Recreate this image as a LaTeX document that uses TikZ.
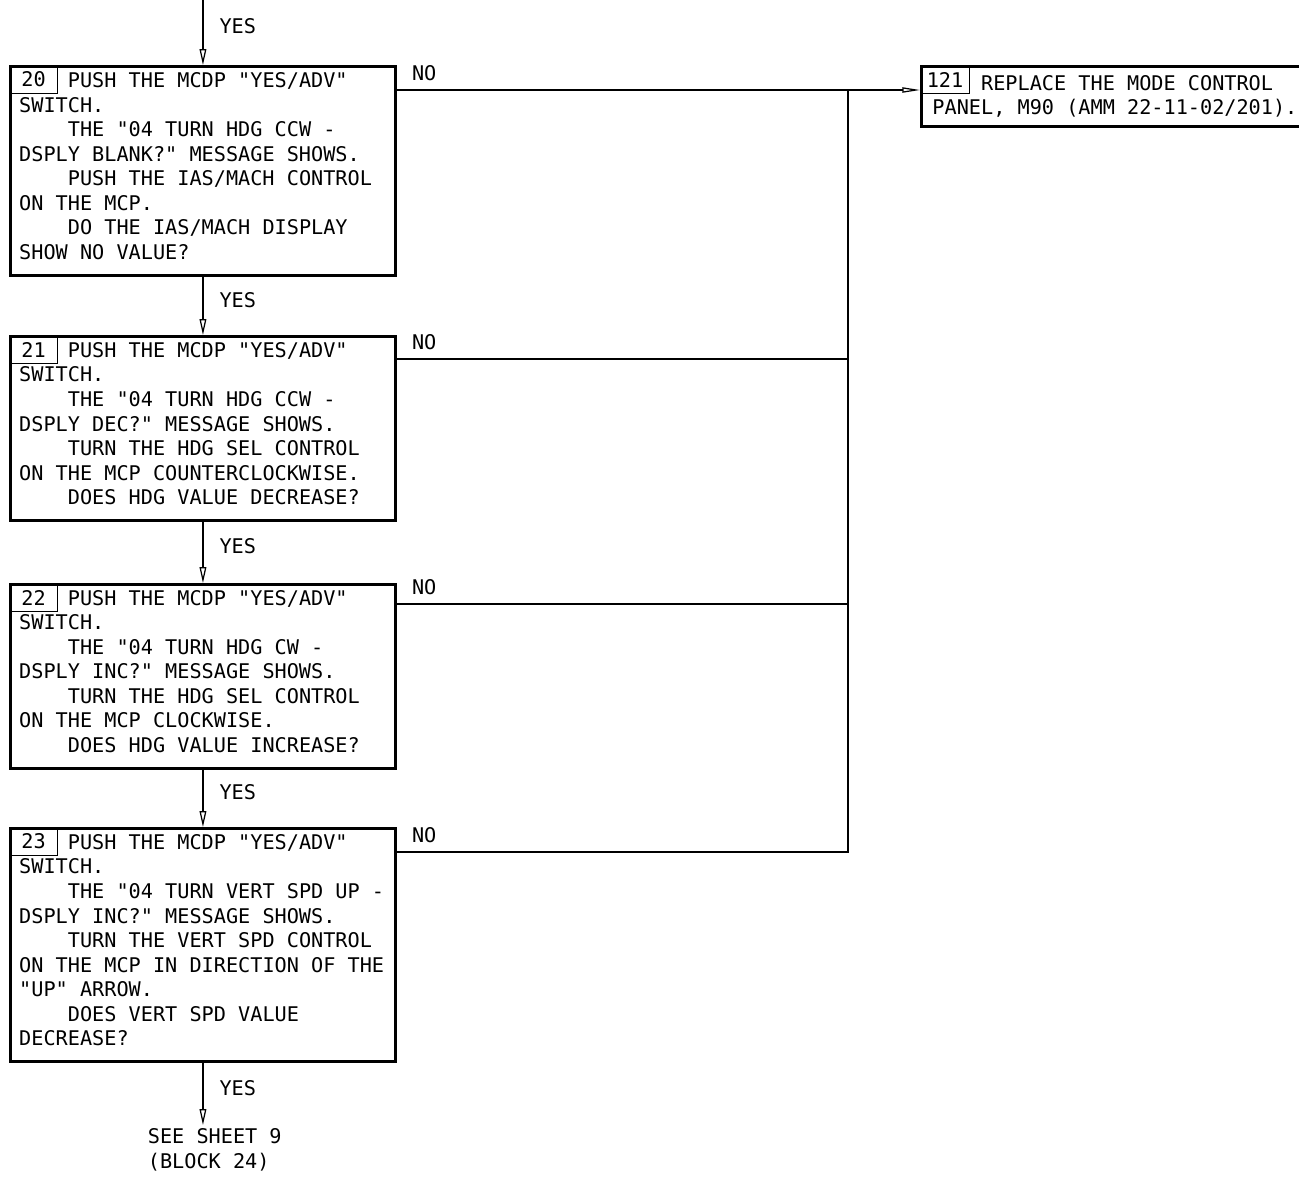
\documentclass[tikz,border=0pt]{standalone}
\usepackage{fontspec}
\setmonofont{DejaVu Sans Mono}
\usetikzlibrary{arrows.meta, positioning, calc}
\newcommand{\indsp}{\hphantom{0000}}

\begin{document}
\begin{tikzpicture}[
        x=0.02cm, y=-0.02cm,
        font=\ttfamily\fontsize{11.5pt}{13.95pt}\selectfont,
        stepbox/.style={rectangle, draw=black, line width=1.7pt, minimum width=7.7cm, text width=7.35cm, inner xsep=0.175cm, anchor=north west,
            execute at begin node={\noindent\spaceskip=0.602em\xspaceskip=0.602em\relax}, execute at end node={\endgraf\vspace*{5.5pt}}},
        resultbox/.style={rectangle, draw=black, line width=1.7pt, text width=7.4cm, inner xsep=0.22cm, minimum height=1.2cm, anchor=north west,
            execute at begin node={\noindent\spaceskip=0.602em\xspaceskip=0.602em\relax}},
        numbox/.style={rectangle, draw=black, line width=0.6pt, minimum width=0.96cm, minimum height=0.56cm, inner sep=0pt, anchor=north west},
        yesline/.style={-{Triangle[open, length=9pt, width=3.8pt]}, line width=0.7pt},
        noline/.style={line width=0.7pt},
        yeslbl/.style={pos=0.4, anchor=west, xshift=0.25cm, inner sep=2pt},
        nolbl/.style={anchor=south west, xshift=0.22cm, yshift=0.1cm, inner sep=2pt}
    ]
        \useasboundingbox (0,0) rectangle (1299,1178);
        % test blocks
        \node[stepbox, minimum height=4.18cm] (b20) at (9,65) {\indsp PUSH THE MCDP "YES/ADV"\\SWITCH.\\\indsp THE "04 TURN HDG CCW -\\DSPLY BLANK?" MESSAGE SHOWS.\\\indsp PUSH THE IAS/MACH CONTROL\\ON THE MCP.\\\indsp DO THE IAS/MACH DISPLAY\\SHOW NO VALUE?};
        \node[stepbox, minimum height=3.68cm] (b21) at (9,335) {\indsp PUSH THE MCDP "YES/ADV"\\SWITCH.\\\indsp THE "04 TURN HDG CCW -\\DSPLY DEC?" MESSAGE SHOWS.\\\indsp TURN THE HDG SEL CONTROL\\ON THE MCP COUNTERCLOCKWISE.\\\indsp DOES HDG VALUE DECREASE?};
        \node[stepbox, minimum height=3.62cm] (b22) at (9,583) {\indsp PUSH THE MCDP "YES/ADV"\\SWITCH.\\\indsp THE "04 TURN HDG CW -\\DSPLY INC?" MESSAGE SHOWS.\\\indsp TURN THE HDG SEL CONTROL\\ON THE MCP CLOCKWISE.\\\indsp DOES HDG VALUE INCREASE?};
        \node[stepbox, minimum height=4.66cm] (b23) at (9,827) {\indsp PUSH THE MCDP "YES/ADV"\\SWITCH.\\\indsp THE "04 TURN VERT SPD UP -\\DSPLY INC?" MESSAGE SHOWS.\\\indsp TURN THE VERT SPD CONTROL\\ON THE MCP IN DIRECTION OF THE\\"UP" ARROW.\\\indsp DOES VERT SPD VALUE\\DECREASE?};
        \node[resultbox] (b121) at (920,65) {\indsp REPLACE THE MODE CONTROL\\PANEL, M90 (AMM 22-11-02/201).};
        % block numbers
        \node[numbox] (n20) at (b20.north west) {20};
        \node[numbox] (n21) at (b21.north west) {21};
        \node[numbox] (n22) at (b22.north west) {22};
        \node[numbox] (n23) at (b23.north west) {23};
        \node[numbox, minimum width=0.98cm] (n121) at (b121.north west) {121};
        \node[inner sep=2pt, align=left, anchor=north west] (sheet) at (144,1125) {SEE SHEET 9\\(BLOCK 24)};
        % YES path
        \coordinate (top) at ([yshift=1.3cm]b20.north);
        \draw[yesline] (top) -- (b20) node[yeslbl] {YES};
        \draw[yesline] (b20) -- (b21) node[yeslbl] {YES};
        \draw[yesline] (b21) -- (b22) node[yeslbl] {YES};
        \draw[yesline] (b22) -- (b23) node[yeslbl] {YES};
        \draw[yesline] (b23.south) -- (b23.south |- sheet.north) node[yeslbl] {YES};
        % NO path
        \coordinate (trunk) at (848,0);
        \coordinate (no20) at ([yshift=-0.5cm]b20.north east);
        \coordinate (no21) at ([yshift=-0.48cm]b21.north east);
        \coordinate (no22) at ([yshift=-0.42cm]b22.north east);
        \coordinate (no23) at ([yshift=-0.5cm]b23.north east);
        \draw[noline, -{Triangle[open, length=10pt, width=3pt]}] (no20) node[nolbl] {NO} -- (no20 -| b121.west);
        \draw[noline] (no21) node[nolbl] {NO} -- (no21 -| trunk);
        \draw[noline] (no22) node[nolbl] {NO} -- (no22 -| trunk);
        \draw[noline] (no23) node[nolbl] {NO} -| (trunk |- no20);
    \end{tikzpicture}
\end{document}
